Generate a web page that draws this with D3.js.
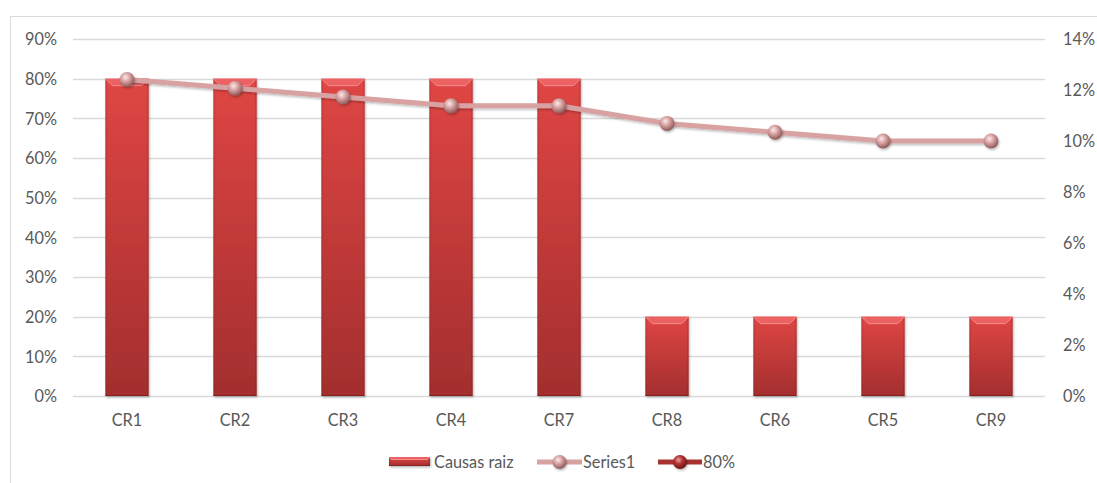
<!DOCTYPE html>
<html>
<head>
<meta charset="utf-8">
<script src="https://cdn.jsdelivr.net/npm/d3@7"></script>
<style>
  html, body { margin: 0; padding: 0; background: #fff; }
  svg { display: block; }
  text { font-family: "Lato", "Liberation Sans", sans-serif; fill: #595959; }
</style>
</head>
<body>
<svg id="chart" width="1097" height="483"></svg>
<script>
// Categories in Pareto order
const categories = ["CR1", "CR2", "CR3", "CR4", "CR7", "CR8", "CR6", "CR5", "CR9"];
// Bar series "Causas raiz" (left axis)
const causasRaiz = [0.8, 0.8, 0.8, 0.8, 0.8, 0.2, 0.2, 0.2, 0.2];
// Frequency counts behind "Series1" (share of total, right axis)
const counts = [36, 35, 34, 33, 33, 31, 30, 29, 29];
const total = d3.sum(counts);
const series1 = counts.map(c => c / total);
// Axis ticks
const leftTicks = [0, 0.1, 0.2, 0.3, 0.4, 0.5, 0.6, 0.7, 0.8, 0.9];
const rightTicks = [0, 0.02, 0.04, 0.06, 0.08, 0.1, 0.12, 0.14];
const legendLabels = ["Causas raiz", "Series1", "80%"];

const FONT = 16.3;
const svg = d3.select("#chart");
const defs = svg.append("defs");

// Chart frame
svg.append("path")
  .attr("d", "M10.5,483 V16.5 H1097")
  .attr("fill", "none").attr("stroke", "#d9d9d9").attr("stroke-width", 1);

const plot = { left: 73, right: 1045, top: 39, bottom: 396 };

const x = d3.scaleBand().domain(categories).range([plot.left, plot.right]).paddingInner(0.6).paddingOuter(0.3);
const yL = d3.scaleLinear().domain([0, 0.9]).range([plot.bottom, plot.top]);
const yR = d3.scaleLinear().domain([0, 0.14]).range([plot.bottom, plot.top]);
const pct = d3.format(".0%");

// Gradients
const barGrad = defs.append("linearGradient").attr("id", "barGrad").attr("x1", 0).attr("y1", 0).attr("x2", 0).attr("y2", 1);
barGrad.append("stop").attr("offset", "0%").attr("stop-color", "#df4644");
barGrad.append("stop").attr("offset", "100%").attr("stop-color", "#a32e2e");
const sideGrad = defs.append("linearGradient").attr("id", "sideGrad").attr("x1", 0).attr("y1", 0).attr("x2", 1).attr("y2", 0);
sideGrad.append("stop").attr("offset", "0%").attr("stop-color", "#7a1c1c").attr("stop-opacity", 0.35);
sideGrad.append("stop").attr("offset", "5%").attr("stop-color", "#7a1c1c").attr("stop-opacity", 0);
sideGrad.append("stop").attr("offset", "95%").attr("stop-color", "#7a1c1c").attr("stop-opacity", 0);
sideGrad.append("stop").attr("offset", "100%").attr("stop-color", "#6a1414").attr("stop-opacity", 0.4);
const ball = defs.append("radialGradient").attr("id", "ball").attr("cx", "40%").attr("cy", "35%").attr("r", "65%");
ball.append("stop").attr("offset", "0%").attr("stop-color", "#fbeaea");
ball.append("stop").attr("offset", "45%").attr("stop-color", "#d9a2a2");
ball.append("stop").attr("offset", "100%").attr("stop-color", "#8e5a5a");
const ballDark = defs.append("radialGradient").attr("id", "ballDark").attr("cx", "40%").attr("cy", "35%").attr("r", "65%");
ballDark.append("stop").attr("offset", "0%").attr("stop-color", "#e8a0a0");
ballDark.append("stop").attr("offset", "45%").attr("stop-color", "#b33434");
ballDark.append("stop").attr("offset", "100%").attr("stop-color", "#6a1515");
const shadow = defs.append("filter").attr("id", "shadow").attr("x", "-30%").attr("y", "-30%").attr("width", "160%").attr("height", "160%");
shadow.append("feDropShadow").attr("dx", 1).attr("dy", 1.5).attr("stdDeviation", 1.2).attr("flood-color", "#000").attr("flood-opacity", 0.28);

// Gridlines (left axis)
svg.append("g").selectAll("line").data(leftTicks).join("line")
  .attr("x1", plot.left).attr("x2", plot.right)
  .attr("y1", d => Math.round(yL(d)) + 0.5).attr("y2", d => Math.round(yL(d)) + 0.5)
  .attr("stroke", "#d9d9d9").attr("stroke-width", 1.3);

// Left axis
const leftAxis = svg.append("g").attr("transform", `translate(${plot.left - 16},0)`)
  .call(d3.axisLeft(yL).tickValues(leftTicks).tickFormat(pct).tickSize(0).tickPadding(0));
leftAxis.select(".domain").remove();
leftAxis.selectAll("text").attr("font-size", FONT).attr("dy", "0.35em").style("fill", "#595959");

// Right axis
const rightAxis = svg.append("g").attr("transform", `translate(${plot.right + 18},0)`)
  .call(d3.axisRight(yR).tickValues(rightTicks).tickFormat(pct).tickSize(0).tickPadding(0));
rightAxis.select(".domain").remove();
rightAxis.selectAll("text").attr("font-size", FONT).attr("dy", "0.35em").style("fill", "#595959");

// Category axis
const catAxis = svg.append("g").attr("transform", `translate(0,${plot.bottom + 18})`)
  .call(d3.axisBottom(x).tickSize(0).tickPadding(0));
catAxis.select(".domain").remove();
catAxis.selectAll("text").attr("font-size", FONT).attr("dy", "0.72em").style("fill", "#595959");

// Bars with bevel
function drawBevelBar(g, x0, y0, w, h, bevel) {
  g.append("rect").attr("x", x0).attr("y", y0).attr("width", w).attr("height", h).attr("fill", "url(#barGrad)");
  g.append("rect").attr("x", x0).attr("y", y0).attr("width", w).attr("height", h).attr("fill", "url(#sideGrad)");
  // top bevel highlight
  g.append("path")
    .attr("d", `M${x0},${y0} H${x0 + w} L${x0 + w - bevel},${y0 + bevel} H${x0 + bevel} Z`)
    .attr("fill", "#ec6262");
  g.append("path")
    .attr("d", `M${x0},${y0} L${x0 + bevel},${y0 + bevel} H${x0 + w - bevel} L${x0 + w},${y0}`)
    .attr("fill", "none").attr("stroke", "#f59a9a").attr("stroke-width", 0.8);
  g.append("line").attr("x1", x0).attr("x2", x0 + w).attr("y1", y0 + h - 0.5).attr("y2", y0 + h - 0.5)
    .attr("stroke", "#6a1414").attr("stroke-opacity", 0.5);
}
const barsG = svg.append("g").attr("filter", "url(#shadow)");
categories.forEach((c, i) => {
  const g = barsG.append("g");
  const y0 = yL(causasRaiz[i]);
  drawBevelBar(g, x(c), y0, x.bandwidth(), plot.bottom - y0, 7);
});

// Series1 line (right axis)
const cx = c => x(c) + x.bandwidth() / 2;
const line = d3.line().x((d, i) => cx(categories[i])).y(d => yR(d));
svg.append("path").datum(series1)
  .attr("d", line).attr("fill", "none")
  .attr("stroke", "#d9a2a2").attr("stroke-width", 5).attr("stroke-linejoin", "round")
  .attr("filter", "url(#shadow)");
svg.append("g").selectAll("circle").data(series1).join("circle")
  .attr("cx", (d, i) => cx(categories[i])).attr("cy", d => yR(d)).attr("r", 7.5)
  .attr("fill", "url(#ball)").attr("filter", "url(#shadow)");

// Legend
const lg = svg.append("g").attr("transform", "translate(0,462)");
// Causas raiz swatch
drawBevelBar(lg.append("g").attr("filter", "url(#shadow)"), 389, -5, 41, 9, 2.5);
lg.append("text").attr("x", 434).attr("y", 0).attr("dy", "0.35em").attr("font-size", FONT).text(legendLabels[0]);
// Series1 swatch
lg.append("line").attr("x1", 537).attr("x2", 582).attr("y1", 0).attr("y2", 0)
  .attr("stroke", "#d9a2a2").attr("stroke-width", 5);
lg.append("circle").attr("cx", 559.5).attr("cy", 0).attr("r", 7).attr("fill", "url(#ball)").attr("filter", "url(#shadow)");
lg.append("text").attr("x", 583).attr("y", 0).attr("dy", "0.35em").attr("font-size", FONT).text(legendLabels[1]);
// 80% swatch
lg.append("line").attr("x1", 658).attr("x2", 702).attr("y1", 0).attr("y2", 0)
  .attr("stroke", "#a83232").attr("stroke-width", 5);
lg.append("circle").attr("cx", 680).attr("cy", 0).attr("r", 7).attr("fill", "url(#ballDark)").attr("filter", "url(#shadow)");
lg.append("text").attr("x", 703).attr("y", 0).attr("dy", "0.35em").attr("font-size", FONT).text(legendLabels[2]);
</script>
</body>
</html>
